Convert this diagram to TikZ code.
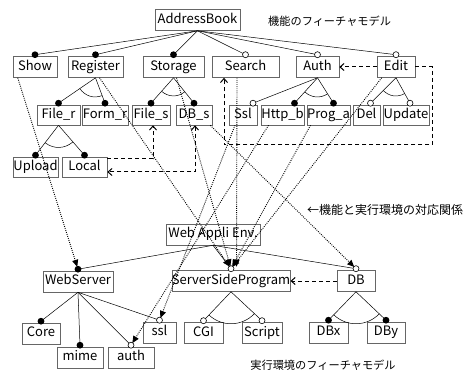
\documentclass[tikz,border=0pt]{standalone}
\usepackage{fontspec}
\setmainfont{Noto Sans CJK JP}
\usetikzlibrary{arrows.meta,calc}
\begin{document}
\begin{tikzpicture}[x=1pt,y=-1pt,
  box/.style={draw=black!60, line width=0.6pt, inner sep=0pt, minimum height=21pt,
    text height=9.4pt, text depth=2.6pt, font=\fontsize{13}{13}\selectfont},
  box3/.style={box, minimum height=20pt},
  tree/.style={line width=0.5pt},
  fdot/.style={circle, fill=black, inner sep=0pt, minimum size=6.8pt},
  odot/.style={circle, draw=black, fill=white, line width=0.6pt, inner sep=0pt, minimum size=6pt},
  req/.style={dash pattern=on 4pt off 3pt, line width=1pt, -{Straight Barb[length=4pt,width=7pt]}},
  reqboth/.style={dash pattern=on 4pt off 3pt, line width=1pt, {Straight Barb[length=4pt,width=7pt]}-{Straight Barb[length=4pt,width=7pt]}},
  map/.style={dash pattern=on 0.9pt off 1.2pt, line width=0.9pt, -{Triangle[length=7pt,width=6pt]}, shorten >=2.5pt},
  jp/.style={inner sep=0pt, font=\fontsize{11.2}{12}\selectfont}
]
\useasboundingbox (0,0) rectangle (463,374);
% ---------- upper feature model ----------
\node[box,minimum width=85pt] (ab) at (197.5,20) {AddressBook};
\node[box,minimum width=44pt] (show) at (35,67) {Show};
\node[box,minimum width=55pt] (reg) at (95.5,67) {Register};
\node[box,minimum width=61pt] (sto) at (173.5,67) {Storage};
\node[box,minimum width=67pt] (sea) at (245.5,67) {Search};
\node[box,minimum width=43pt] (auth) at (317.5,67) {Auth};
\node[box,minimum width=38pt] (edit) at (396,67) {Edit};
\node[box3,minimum width=43pt] (filer) at (58.5,115) {File\_r};
\node[box3,minimum width=46pt] (formr) at (105,115) {Form\_r};
\node[box3,minimum width=38pt] (files) at (151,115) {File\_s};
\node[box3,minimum width=36pt] (dbs) at (194,115) {DB\_s};
\node[box3,minimum width=28pt] (ssl) at (243,115) {Ssl};
\node[box3,minimum width=43pt] (httpb) at (282.5,115) {Http\_b};
\node[box3,minimum width=43pt] (proga) at (328.5,115) {Prog\_a};
\node[box3,minimum width=27pt] (del) at (366.5,115) {Del};
\node[box3,minimum width=46pt] (upd) at (406,115) {Update};
\node[box3,minimum width=45pt] (upl) at (35.5,167) {Upload};
\node[box3,minimum width=45pt] (loc) at (84.5,167) {Local};
% ---------- lower feature model ----------
\node[box,minimum width=94pt] (wae) at (213,234.5) {Web Appli Env.};
\node[box,minimum width=70pt] (ws) at (78,281.5) {WebServer};
\node[box,minimum width=116pt] (ssp) at (231,281) {ServerSideProgram};
\node[box,minimum width=38pt] (db) at (356,281) {DB};
\node[box,minimum width=38pt] (core) at (41,333.5) {Core};
\node[box,minimum width=46pt] (mime) at (80,357.5) {mime};
\node[box,minimum width=46pt] (auth2) at (131,357.5) {auth};
\node[box,minimum width=33pt] (ssl2) at (159.5,332.5) {ssl};
\node[box,minimum width=39pt] (cgi) at (203.5,333) {CGI};
\node[box,minimum width=40pt] (script) at (262,333) {Script};
\node[box,minimum width=39pt] (dbx) at (328.5,332.5) {DBx};
\node[box,minimum width=38pt] (dby) at (386,332.5) {DBy};
% ---------- texts ----------
\node[jp,anchor=west] (t1) at (268,21) {機能のフィーチャモデル};
\node[jp] (t2) at (323,365) {実行環境のフィーチャモデル};
\node[inner sep=0pt,anchor=west,font=\fontsize{12}{12}\selectfont] (t3) at (307,210) {←機能と実行環境の対応関係};
% ---------- marker positions ----------
\foreach \n in {show,reg,sto,sea,auth,edit,filer,formr,files,dbs,upl,loc,ws,ssp,db,core,mime,auth2,ssl2,cgi,script,dbx,dby}
  \coordinate (m-\n) at ($(\n.north)+(0,-1.5)$);
\coordinate (m-ssl) at ($(ssl.north)+(10,-1.5)$);
\coordinate (m-httpb) at ($(httpb.north)+(12,-1.5)$);
\coordinate (m-proga) at ($(proga.north)+(5,-1.5)$);
\coordinate (m-del) at ($(del.north)+(4,-1.5)$);
\coordinate (m-upd) at ($(upd.north)+(4,-1.5)$);
% ---------- tree lines ----------
\foreach \c in {show,reg,sto,sea,auth,edit} \draw[tree] (ab.south) -- (m-\c);
\foreach \c in {filer,formr} \draw[tree] (reg.south) -- (m-\c);
\foreach \c in {files,dbs} \draw[tree] (sto.south) -- (m-\c);
\foreach \c in {ssl,httpb,proga} \draw[tree] (auth.south) -- (m-\c);
\foreach \c in {del,upd} \draw[tree] (edit.south) -- (m-\c);
\foreach \c in {upl,loc} \draw[tree] (filer.south) -- (m-\c);
\foreach \c in {ws,ssp,db} \draw[tree] (wae.south) -- (m-\c);
\foreach \c in {core,mime,auth2,ssl2} \draw[tree] (ws.south) -- (m-\c);
\foreach \c in {cgi,script} \draw[tree] (ssp.south) -- (m-\c);
\foreach \c in {dbx,dby} \draw[tree] (db.south) -- (m-\c);
% ---------- group arcs ----------
\draw[tree] ($(reg.south)!19pt!(m-filer)$) to[bend right=38] ($(reg.south)!19pt!(m-formr)$);
\draw[tree] ($(sto.south)!18pt!(m-files)$) to[bend right=40] ($(sto.south)!18pt!(m-dbs)$);
\draw[tree] ($(auth.south)!19pt!(m-httpb)$) to[bend right=37] ($(auth.south)!19pt!(m-proga)$);
\draw[tree] ($(edit.south)!18pt!(m-del)$) to[bend right=37] ($(edit.south)!18pt!(m-upd)$);
\draw[tree] ($(filer.south)!22pt!(m-upl)$) to[bend right=39] ($(filer.south)!22pt!(m-loc)$);
\draw[tree] ($(ssp.south)!32pt!(m-cgi)$) to[bend right=45] ($(ssp.south)!32pt!(m-script)$);
\draw[tree] ($(db.south)!32pt!(m-dbx)$) to[bend right=45] ($(db.south)!32pt!(m-dby)$);
% ---------- markers ----------
\foreach \c in {show,reg,sto,filer,formr,files,dbs,httpb,proga,upl,loc,ws,core,mime,dbx,dby}
  \node[fdot] at (m-\c) {};
\foreach \c in {sea,auth,edit,ssl,del,upd,ssp,db,auth2,ssl2,cgi,script}
  \node[odot] at (m-\c) {};
% ---------- requires / excludes (dashed) ----------
\coordinate (c1) at ($(edit.east)+(17,78)$);
\draw[req] (edit.west) -- (auth.east);
\draw[req] (edit.east) -| (c1) -| ($(sea.south)+(-21.5,0)$);
\draw[req] ($(loc.east)+(0,-8)$) -| ($(files.south)+(2,0)$);
\draw[reqboth] ($(dbs.south)+(1,0)$) |- ($(loc.east)+(0,5)$);
\draw[req] (db.west) -- (ssp.east);
% ---------- mapping (dotted) ----------
\draw[map] ($(show.south west)+(5,0)$) -- (m-ws);
\draw[map] ($(reg.south)+(4,0)$) -- (m-ssp);
\draw[map] ($(sto.south)+(3,0)$) -- (m-ssp);
\draw[map] ($(sea.south)+(-8.5,0)$) -- ($(ssp.north)+(5.5,-1)$);
\draw[map] ($(proga.south)+(-18,0)$) -- (m-ssp);
\draw[map] ($(edit.south west)+(5,0)$) -- (m-ssp);
\draw[map] ($(dbs.south east)+(-2,0)$) -- (m-db);
\draw[map] ($(ssl.south)+(-8,0)$) -- (m-ssl2);
\draw[map] ($(httpb.south)+(-14,0)$) -- (m-auth2);
\end{tikzpicture}
\end{document}
